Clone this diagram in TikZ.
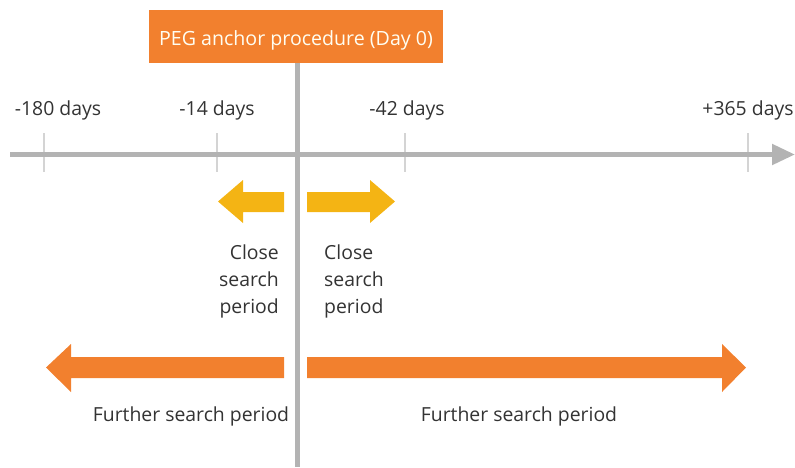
\documentclass[tikz,border=0pt]{standalone}
\usepackage{fontspec}
\setmainfont{Open Sans}
\usetikzlibrary{arrows.meta}
\definecolor{pegorange}{HTML}{F2802E}
\definecolor{pegyellow}{HTML}{F4B414}
\definecolor{axisgray}{HTML}{B3B3B3}
\definecolor{tickgray}{HTML}{D4D4D4}
\definecolor{txt}{HTML}{333333}
\tikzset{
  lbl/.style={font=\fontsize{19.4}{27}\selectfont, text=txt, inner sep=0pt},
  daylbl/.style={lbl, anchor=base},
  titlebox/.style={fill=pegorange, text=white!95!yellow, font=\fontsize{19.6}{22}\selectfont, minimum width=294pt, minimum height=53pt, inner sep=0pt, text height=17pt, text depth=0pt},
  axisline/.style={draw=axisgray, line width=5pt, -{Triangle[length=23pt,width=20pt]}},
  vline/.style={draw=axisgray, line width=4.5pt},
  tickline/.style={draw=tickgray, line width=2pt},
  yarrow/.style={fill=pegyellow},
  oarrow/.style={fill=pegorange}
}
\begin{document}
\begin{tikzpicture}[x=1pt,y=-1pt]
\useasboundingbox (0,0) rectangle (795,467);
% axis and ticks
\coordinate (axs) at (10,154.5);
\coordinate (axe) at (795,154.5);
\foreach \n/\x in {a/44,b/217,c/405,d/748}{
  \coordinate (t\n1) at (\x,133);
  \coordinate (t\n2) at (\x,172);
}
\draw[tickline] (ta1) -- (ta2);
\draw[tickline] (tb1) -- (tb2);
\draw[tickline] (tc1) -- (tc2);
\draw[tickline] (td1) -- (td2);
\draw[axisline] (axs) -- (axe);
% title and vertical line
\node[titlebox] (title) at (296,36.5) {PEG anchor procedure (Day 0)};
\coordinate (vbot) at (297.5,467);
\draw[vline] (title.south -| vbot) -- (vbot);
% day labels
\node[daylbl] (d180) at (58,115.5) {-180 days};
\node[daylbl] (d14) at (217,115.5) {-14 days};
\node[daylbl] (d42) at (407,115.5) {-42 days};
\node[daylbl] (d365) at (748,115.5) {+365 days};
% close search arrows
\fill[yarrow] (218,201.5) -- (243,180) -- (243,192) -- (284,192) -- (284,212) -- (243,212) -- (243,223) -- cycle;
\fill[yarrow] (395,201.5) -- (370,180) -- (370,192) -- (307,192) -- (307,212) -- (370,212) -- (370,223) -- cycle;
% further search arrows
\fill[oarrow] (46,367.5) -- (71,344) -- (71,357) -- (284,357) -- (284,378) -- (71,378) -- (71,392) -- cycle;
\fill[oarrow] (746,367.5) -- (722,344) -- (722,357) -- (307,357) -- (307,378) -- (722,378) -- (722,392) -- cycle;
% period labels
\node[lbl, align=right, anchor=north east] (closeL) at (279,244.5) {Close\\search\\period};
\node[lbl, align=left, anchor=north west] (closeR) at (324,244.5) {Close\\search\\period};
\node[lbl, anchor=base] (furtherL) at (191,421.5) {Further search period};
\node[lbl, anchor=base] (furtherR) at (519,421.5) {Further search period};
\end{tikzpicture}
\end{document}
